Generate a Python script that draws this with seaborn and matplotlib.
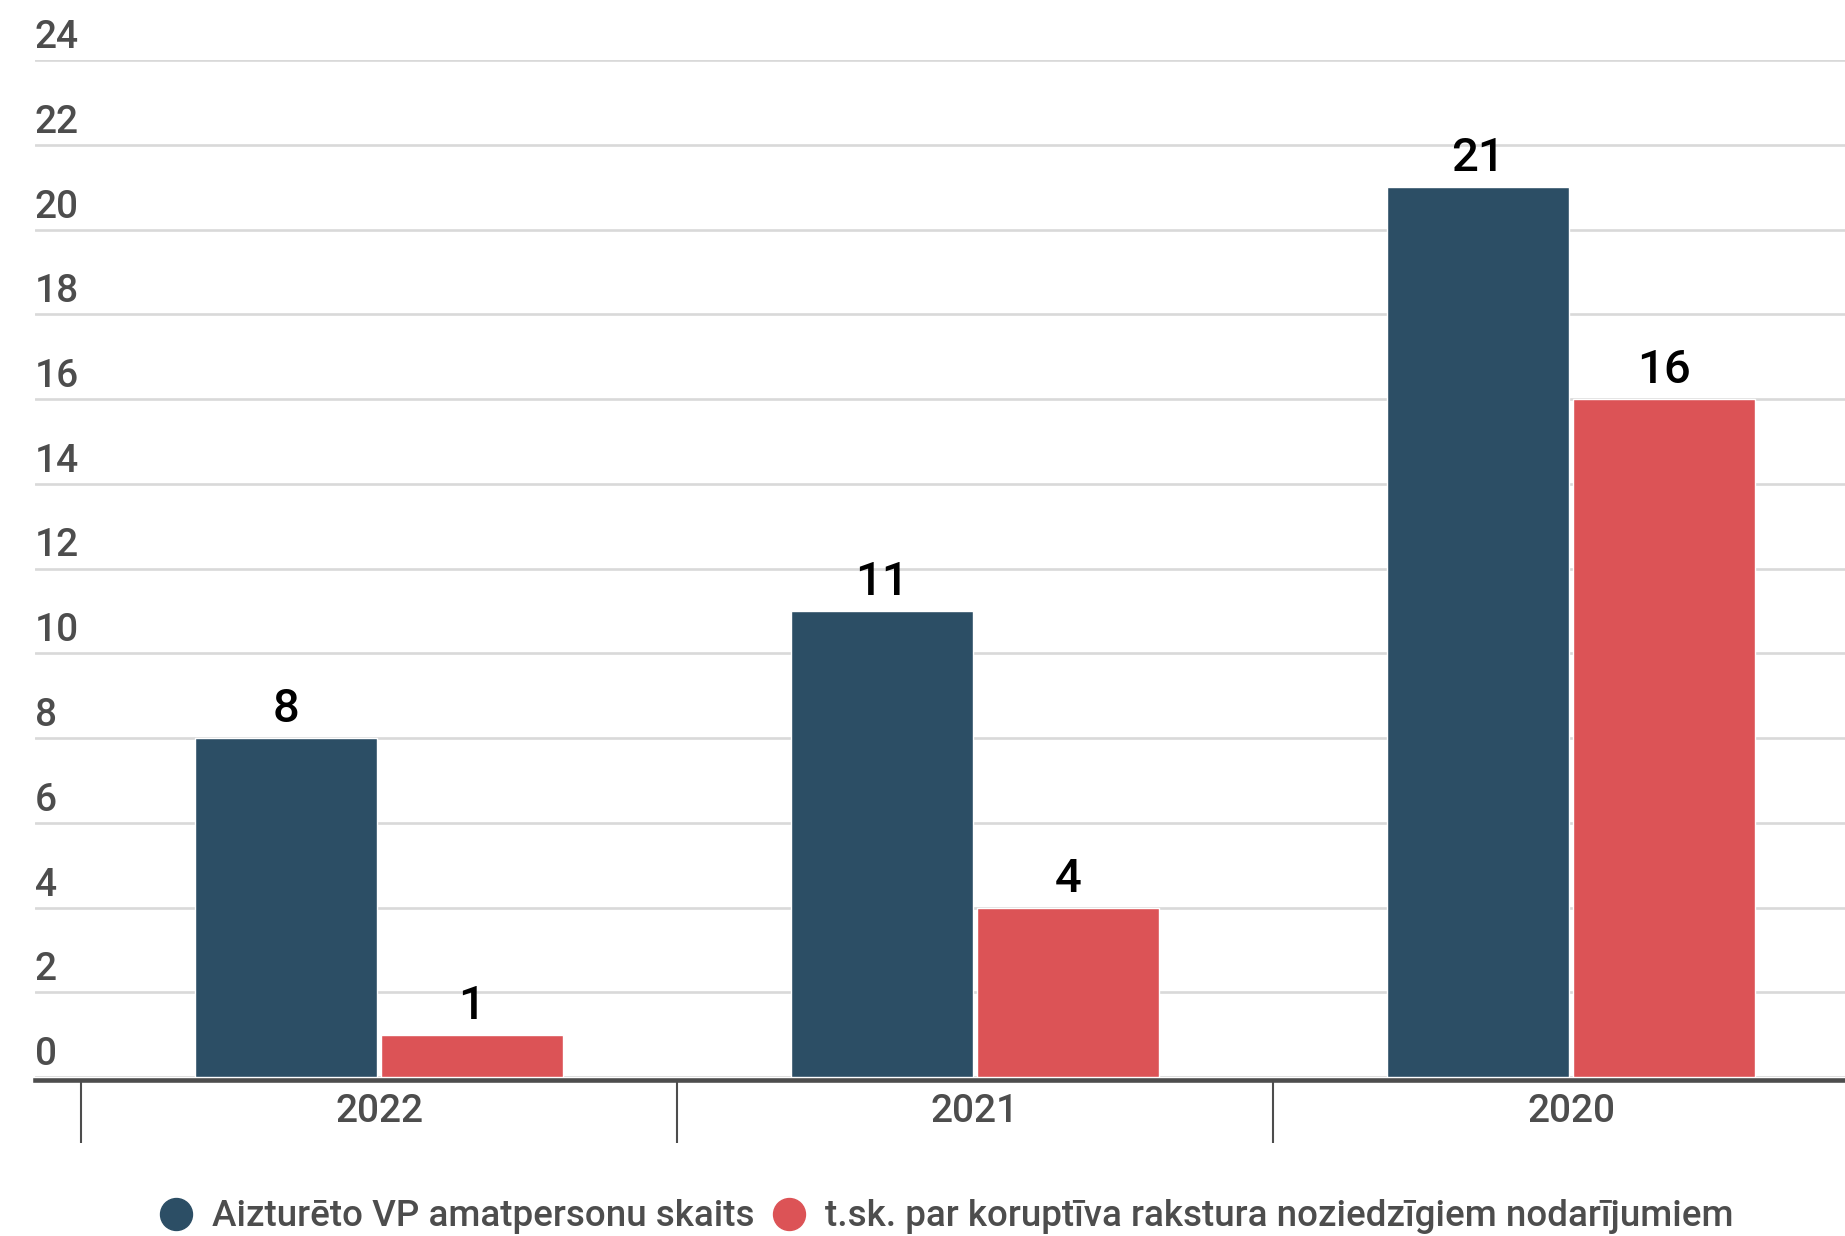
import matplotlib
matplotlib.use("Agg")
import matplotlib.pyplot as plt
import matplotlib.transforms as mtransforms
from matplotlib.lines import Line2D
import seaborn as sns
import pandas as pd

# Data
years = ["2022", "2021", "2020"]
detained = [8, 11, 21]
corruption = [1, 4, 16]
series_names = [
    "Aizturēto VP amatpersonu skaits",
    "t.sk. par koruptīva rakstura noziedzīgiem nodarījumiem",
]
y_ticks = [0, 2, 4, 6, 8, 10, 12, 14, 16, 18, 20, 22, 24]

BLUE = "#2C4E65"
RED = "#DC5356"
GRAY = "#4D4D4D"

df = pd.DataFrame({
    "year": years * 2,
    "value": detained + corruption,
    "series": [series_names[0]] * len(years) + [series_names[1]] * len(years),
})

sns.set_style("white")
plt.rcParams["font.family"] = ["Roboto", "DejaVu Sans"]

W, H, DPI = 1845, 1236, 100
fig = plt.figure(figsize=(W / DPI, H / DPI), dpi=DPI)
ax = fig.add_axes([35 / W, 1 - 1077 / H, 1 - 35 / W, (1077 - 60) / H])

sns.barplot(
    data=df, x="year", y="value", hue="series", order=years,
    hue_order=series_names, palette=[BLUE, RED], saturation=1,
    width=0.624, gap=0.0215, ax=ax, legend=False,
)

ax.set_xlim(-0.5772, 2.4597)
ax.set_ylim(0, 24)
ax.set_xlabel("")
ax.set_ylabel("")

# Horizontal grid
ax.set_yticks(y_ticks)
ax.set_yticklabels([])
ax.tick_params(axis="y", length=0)
ax.yaxis.grid(True, color="#D9D9D9", linewidth=1.9)
ax.xaxis.grid(False)
ax.set_axisbelow(True)

# Y labels sit above their grid lines, flush left
trans = mtransforms.blended_transform_factory(ax.transAxes, ax.transData)
trans = mtransforms.offset_copy(trans, fig=fig, x=0, y=12, units="dots")
for v in y_ticks:
    ax.text(0, v, str(v), transform=trans, ha="left", va="baseline",
            fontsize=28, fontweight="medium", color=GRAY, clip_on=False)

# Spines
for s in ["top", "right", "left"]:
    ax.spines[s].set_visible(False)
ax.spines["bottom"].set_color(GRAY)
ax.spines["bottom"].set_linewidth(3.3)
ax.spines["bottom"].set_position(("outward", 1.8))

# Category labels and group dividers
ax.tick_params(axis="x", which="major", bottom=False, length=0, pad=9.5,
               labelsize=28, labelcolor=GRAY)
for lbl in ax.get_xticklabels():
    lbl.set_fontweight("medium")
ax.set_xticks([-0.5, 0.5, 1.5], minor=True)
ax.tick_params(axis="x", which="minor", bottom=True, length=45, width=1.5,
               color=GRAY, direction="out")

# Value labels
for cont in ax.containers:
    ax.bar_label(cont, fontsize=34, fontweight="medium", color="black",
                 padding=5)

# Legend with round markers
handles = [
    Line2D([], [], marker="o", ls="", markersize=23, color=BLUE),
    Line2D([], [], marker="o", ls="", markersize=23, color=RED),
]
leg = fig.legend(
    handles, series_names, loc="center left",
    bbox_to_anchor=(158 / W, 1 - 1217 / H), ncol=2, frameon=False,
    prop={"size": 26.5, "weight": "medium"}, labelcolor=GRAY,
    handlelength=1.0, handletextpad=0.47, columnspacing=0.43,
    borderpad=0, borderaxespad=0,
)

fig.savefig("out.png", dpi=DPI)
